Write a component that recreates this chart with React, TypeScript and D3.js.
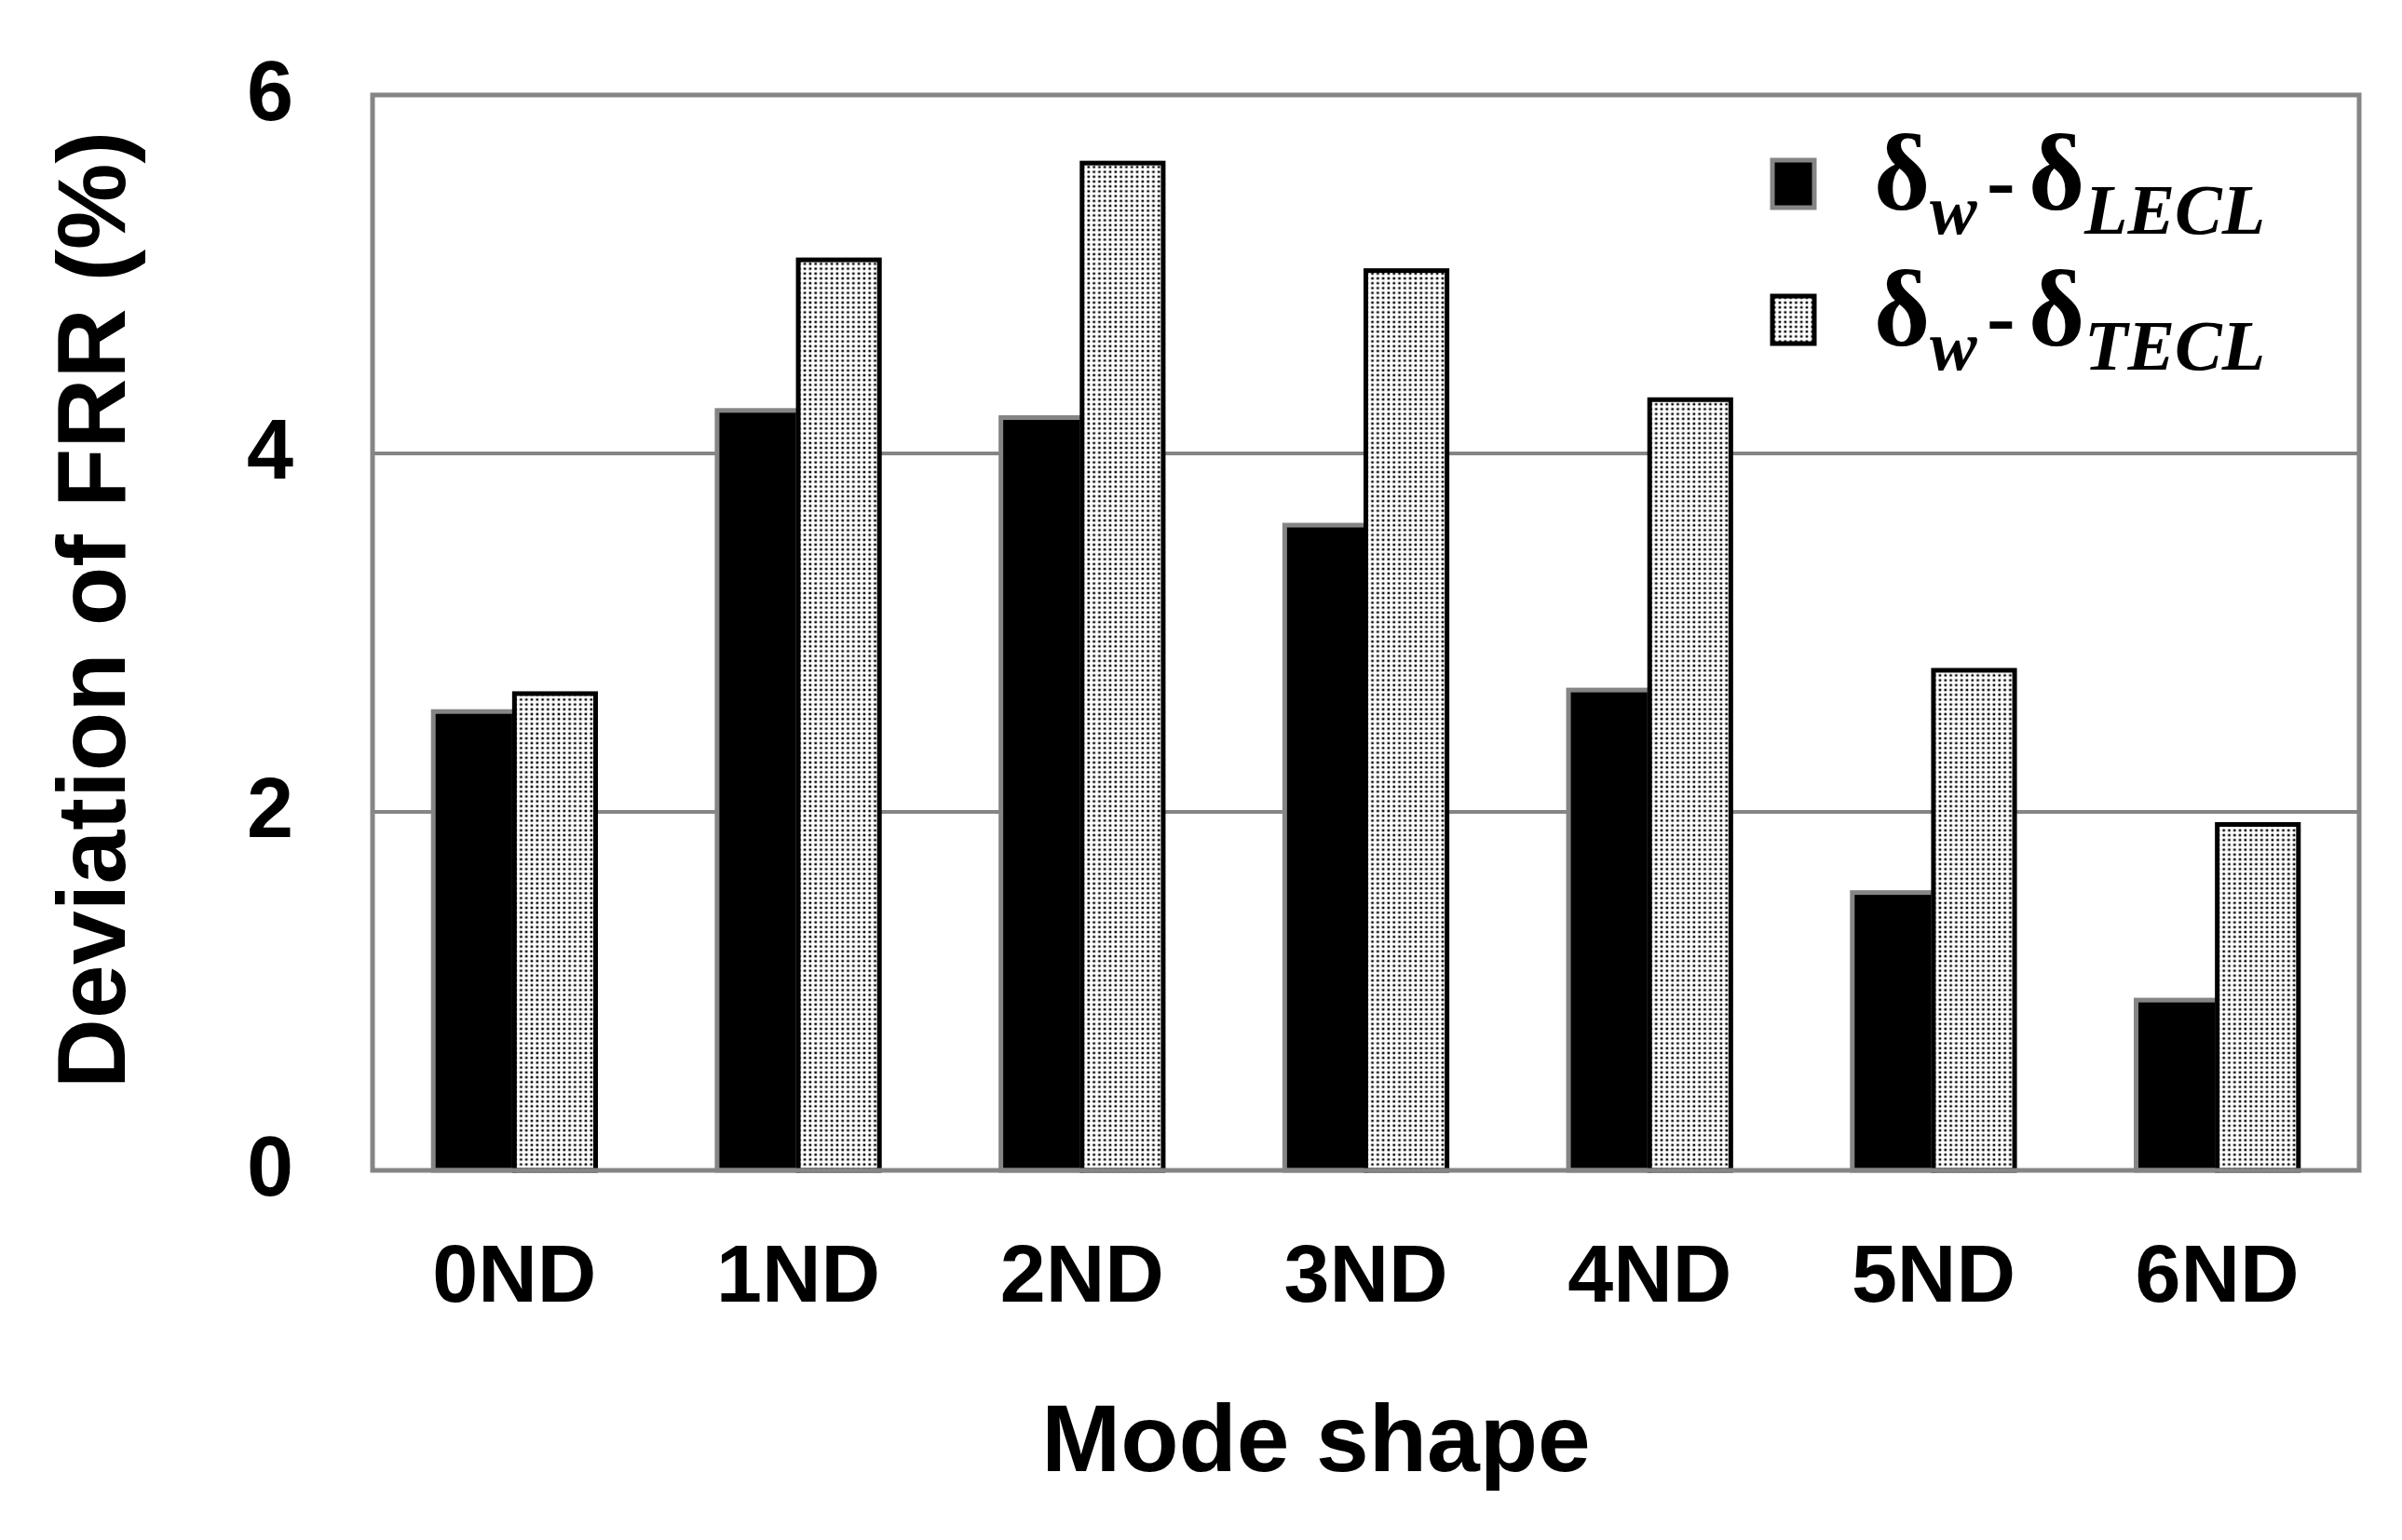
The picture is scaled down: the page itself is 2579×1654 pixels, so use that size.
import React from "react";
import * as d3 from "d3";

const categories = ["0ND", "1ND", "2ND", "3ND", "4ND", "5ND", "6ND"];
const seriesKeys = ["LECL", "TECL"];
const lecl = [2.56, 4.24, 4.2, 3.6, 2.68, 1.55, 0.95];
const tecl = [2.66, 5.08, 5.62, 5.02, 4.3, 2.79, 1.93];
const yTicks = [0, 2, 4, 6];
const yTitle = "Deviation of FRR (%)";
const xTitle = "Mode shape";

const W = 2579;
const H = 1654;
const M = { left: 400, right: 2533, top: 102, bottom: 1257 };
const GRAY = "#858585";

export default function App() {
  const x0 = d3.scaleBand<string>().domain(categories).range([M.left, M.right]).padding(0);
  const bw = x0.bandwidth();
  const groupW = bw * 0.572;
  const x1 = d3
    .scaleBand<string>()
    .domain(seriesKeys)
    .range([(bw - groupW) / 2, (bw + groupW) / 2])
    .padding(0);
  const y = d3.scaleLinear().domain([0, 6]).range([M.bottom, M.top]);
  const values: Record<string, number[]> = { LECL: lecl, TECL: tecl };

  const arial = "Arial, 'Liberation Sans', sans-serif";
  const serif = "'Liberation Serif', 'Times New Roman', serif";

  const legendRow = (sub: string, yBase: number, fill: string, stroke: string) => (
    <g>
      <rect x={1903} y={yBase - 53} width={45} height={51} fill={fill} stroke={stroke} strokeWidth={5} />
      <text fontFamily={serif} fontWeight="bold" fill="#000">
        <tspan x={2012} y={yBase} fontSize={116}>δ</tspan>
        <tspan x={2072} y={yBase + 26} fontSize={76} fontStyle="italic">w</tspan>
        <tspan x={2133} y={yBase} fontSize={92}>-</tspan>
        <tspan x={2178} y={yBase} fontSize={116}>δ</tspan>
        <tspan x={2238} y={yBase + 26} fontSize={76} fontStyle="italic">{sub}</tspan>
      </text>
    </g>
  );

  return (
    <svg
      width={W}
      height={H}
      viewBox={`0 0 ${W} ${H}`}
      style={{ position: "absolute", left: 0, top: 0, background: "#fff" }}
    >
      <defs>
        <pattern id="dots" patternUnits="userSpaceOnUse" width={5.8} height={5.2}>
          <rect width={5.8} height={5.2} fill="#fff" />
          <rect x={1.5} y={1.4} width={2.6} height={2.4} fill="#000" />
        </pattern>
      </defs>
      <rect x={0} y={0} width={W} height={H} fill="#fff" />

      {/* gridlines */}
      {yTicks
        .filter((t) => t > 0 && t < 6)
        .map((t) => (
          <line key={t} x1={M.left} x2={M.right} y1={y(t)} y2={y(t)} stroke={GRAY} strokeWidth={4} />
        ))}

      {/* bars */}
      {categories.map((c, i) => (
        <g key={c} transform={`translate(${x0(c)},0)`}>
          {seriesKeys.map((k) => {
            const v = values[k][i];
            return (
              <rect
                key={k}
                x={x1(k)!}
                y={y(v)}
                width={x1.bandwidth()}
                height={M.bottom - y(v)}
                fill={k === "LECL" ? "#000" : "url(#dots)"}
                stroke={k === "LECL" ? GRAY : "#000"}
                strokeWidth={5}
              />
            );
          })}
        </g>
      ))}

      {/* frame */}
      <rect
        x={M.left}
        y={M.top}
        width={M.right - M.left}
        height={M.bottom - M.top}
        fill="none"
        stroke={GRAY}
        strokeWidth={5}
      />

      {/* y tick labels */}
      {yTicks.map((t) => (
        <text
          key={t}
          x={290}
          y={y(t) - 5}
          dy="0.36em"
          textAnchor="middle"
          fontFamily={arial}
          fontWeight="bold"
          fontSize={90}
          fill="#000"
        >
          {t}
        </text>
      ))}

      {/* x tick labels */}
      {categories.map((c) => (
        <text
          key={c}
          x={x0(c)! + bw / 2}
          y={1398}
          textAnchor="middle"
          fontFamily={arial}
          fontWeight="bold"
          fontSize={88}
          fill="#000"
        >
          {c}
        </text>
      ))}

      {/* axis titles */}
      <text
        x={1413}
        y={1580}
        textAnchor="middle"
        fontFamily={arial}
        fontWeight="bold"
        fontSize={102}
        fill="#000"
      >
        {xTitle}
      </text>
      <text
        transform={`translate(134,655) rotate(-90)`}
        textAnchor="middle"
        fontFamily={arial}
        fontWeight="bold"
        fontSize={104}
        fill="#000"
      >
        {yTitle}
      </text>

      {/* legend */}
      {legendRow("LECL", 225, "#000", GRAY)}
      {legendRow("TECL", 371, "url(#dots)", "#000")}
    </svg>
  );
}
